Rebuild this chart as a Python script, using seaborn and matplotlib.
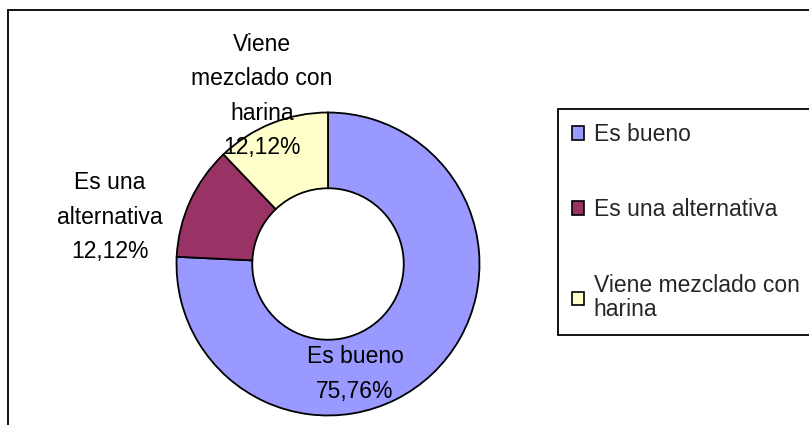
import matplotlib
matplotlib.use("Agg")
import matplotlib.pyplot as plt
import seaborn as sns
from matplotlib.patches import Patch, Rectangle

# data
categories = ["Es bueno", "Es una alternativa", "Viene mezclado con harina"]
counts = [25, 4, 4]
slice_labels = ["Es bueno", "Es una\nalternativa", "Viene\nmezclado con\nharina"]
legend_labels = ["Es bueno", "Es una alternativa", "Viene mezclado con\nharina"]
colors = sns.color_palette(["#9999FF", "#993366", "#FFFFCC"])

sns.set_style("white")
plt.rcParams["font.family"] = ["Liberation Sans", "DejaVu Sans"]

W, H = 809, 425
fig = plt.figure(figsize=(W / 100, H / 100), dpi=100)

# donut: centre (328, 264) px, outer radius 153 px
cx, cy, r = 328, 264, 153
ax = fig.add_axes([(cx - r) / W, (H - cy - r) / H, 2 * r / W, 2 * r / H])
wedges, _ = ax.pie(counts, colors=colors, startangle=90, counterclock=False,
                   radius=1.0,
                   wedgeprops=dict(width=0.5, edgecolor="black", linewidth=1.3))
ax.set_xlim(-1.01, 1.01)
ax.set_ylim(-1.01, 1.01)
ax.set_aspect("equal")
ax.axis("off")

total = sum(counts)
pcts = [f"{v / total * 100:.2f}%".replace(".", ",") for v in counts]

fs = 16.5

# label positions in px
label_pos = [(355, 374), (110, 217), (262, 96)]
for (px, py), name, pct in zip(label_pos, slice_labels, pcts):
    fig.text(px / W, 1 - py / H, f"{name}\n{pct}", ha="center", va="center",
             fontsize=fs, linespacing=1.62, color="black")

# outer chart frame (cut off at right and bottom as in the reference)
fig.add_artist(Rectangle((8 / W, -0.1), 1.2, 1 - 10 / H + 0.1,
                         transform=fig.transFigure, fill=False,
                         edgecolor="black", linewidth=1.3))

handles = [Patch(facecolor=c, edgecolor="black", linewidth=1.2) for c in colors]
leg = fig.legend(handles, legend_labels, loc="upper left",
                 bbox_to_anchor=(558 / W, 1 - 109 / H, 300 / W, 0.0),
                 mode="expand", fontsize=fs, frameon=True, fancybox=False,
                 edgecolor="black", framealpha=1, borderaxespad=0,
                 handlelength=0.55, handleheight=0.55, handletextpad=0.4,
                 labelspacing=2.3, borderpad=0.6)
leg.get_frame().set_linewidth(1.3)
for t in leg.get_texts():
    t.set_linespacing(1.05)

fig.savefig("out.png", dpi=100, facecolor="white")
